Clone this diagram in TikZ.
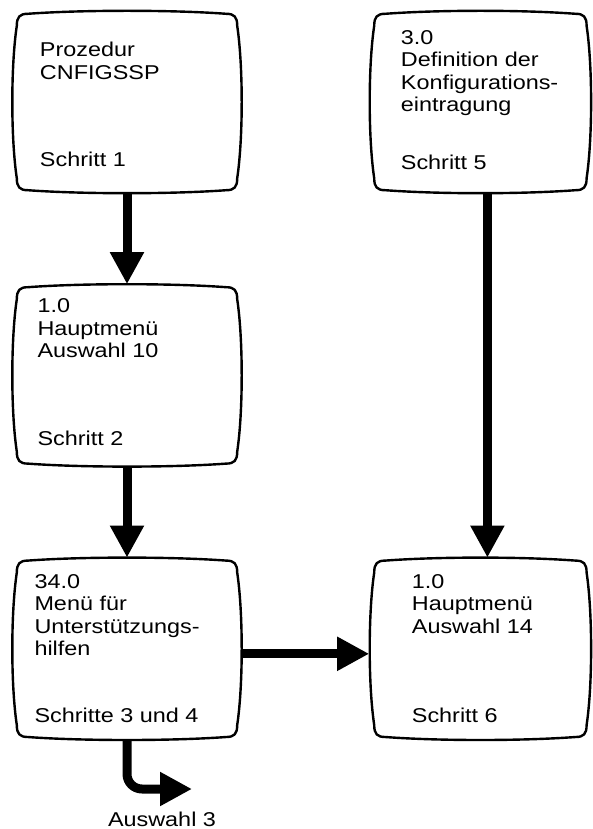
\documentclass[tikz,border=0pt]{standalone}
\usepackage{fontspec}
\setmainfont[FakeStretch=1.17]{Liberation Sans}
\usepackage{tikz}
\usetikzlibrary{calc, arrows.meta, positioning}

% bulging screen outline round a node
\newcommand\screenframe[1]{%
  \draw[frame] let \p1=(#1.north west), \p2=(#1.south east) in
    (\x1+16pt,\y1-3pt)
    .. controls (\x1+70pt,\y1+1pt) and (\x2-70pt,\y1+1pt) .. (\x2-16pt,\y1-3pt)
    .. controls (\x2-8pt,\y1-3pt) and (\x2-5pt,\y1-6pt) .. (\x2-5pt,\y1-15pt)
    .. controls (\x2+1pt,\y1-55pt) and (\x2+1pt,\y2+55pt) .. (\x2-5pt,\y2+15pt)
    .. controls (\x2-5pt,\y2+6pt) and (\x2-8pt,\y2+3pt) .. (\x2-16pt,\y2+3pt)
    .. controls (\x2-70pt,\y2-1pt) and (\x1+70pt,\y2-1pt) .. (\x1+16pt,\y2+3pt)
    .. controls (\x1+8pt,\y2+3pt) and (\x1+5pt,\y2+6pt) .. (\x1+5pt,\y2+15pt)
    .. controls (\x1-1pt,\y2+55pt) and (\x1-1pt,\y1-55pt) .. (\x1+5pt,\y1-15pt)
    .. controls (\x1+5pt,\y1-6pt) and (\x1+8pt,\y1-3pt) .. cycle;}
% width, left, top gap, lines, step, bottom gap
\newcommand\scrtext[6]{\parbox[c][182pt][s]{#1}{\leftskip=#2\relax\vspace*{#3}#4\par\vfill #5\par\vspace*{#6}}}

\begin{document}
\begin{tikzpicture}[x=1pt, y=-1pt, line join=round,
    every node/.style={font=\fontsize{20}{22.5}\selectfont},
    screen/.style={inner sep=0pt, minimum height=182pt},
    frame/.style={line width=2.4pt},
    flow/.style={line width=9pt, -{Triangle[length=32pt, width=32pt]}}]
    \useasboundingbox (0,0) rectangle (593,829);

    \node[screen, minimum width=230pt] (s1) at (127,102) {\scrtext{230pt}{28pt}{31.5pt}{Prozedur\\CNFIGSSP}{Schritt 1}{26pt}};
    \node[screen, minimum width=230pt, below=91pt of s1] (s2) {\scrtext{230pt}{25.5pt}{14.5pt}{1.0\\Hauptmenü\\Auswahl 10}{Schritt 2}{21pt}};
    \node[screen, minimum width=230pt, below=91pt of s2] (s34) {\scrtext{230pt}{22.5pt}{16.5pt}{34.0\\Menü für\\Unterstützungs-\\hilfen}{Schritte 3 und 4}{17pt}};
    \node[screen, minimum width=222pt, right=127pt of s1] (s5) {\scrtext{222pt}{31.5pt}{19.5pt}{3.0\\Definition der\\Konfigurations-\\eintragung}{Schritt 5}{23pt}};
    \node[screen, minimum width=222pt, right=127pt of s34] (s6) {\scrtext{222pt}{42.5pt}{16.5pt}{1.0\\Hauptmenü\\Auswahl 14}{Schritt 6}{17pt}};
    \screenframe{s1}
    \screenframe{s2}
    \screenframe{s34}
    \screenframe{s5}
    \screenframe{s6}

    \node[anchor=base] (sel) at (162,826) {Auswahl 3};
    \coordinate (a3) at (192,789);

    \draw[flow] (s1) -- (s2);
    \draw[flow] (s2) -- (s34);
    \draw[flow] ([xshift=7pt]s5.south) -- ([xshift=7pt]s6.north);
    \draw[flow] ([yshift=-5pt]s34.east) -- ([yshift=-5pt]s6.west);
    \draw[flow, rounded corners=15pt] (s34.south) |- (a3);
\end{tikzpicture}
\end{document}
